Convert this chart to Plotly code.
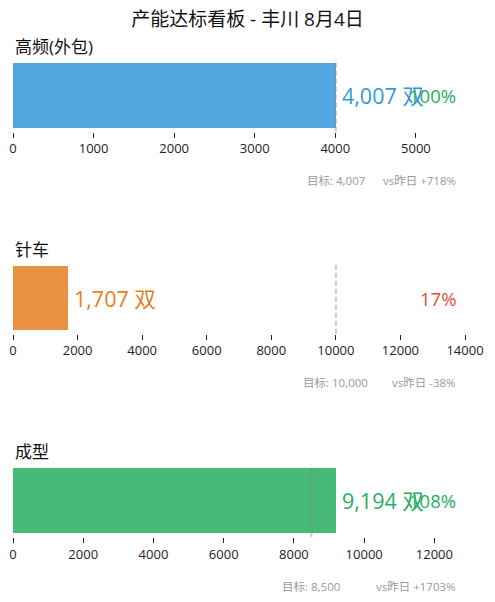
import plotly.graph_objects as go

# 产线数据
lines = ["高频(外包)", "针车", "成型"]
actual = [4007, 1707, 9194]
target = [4007, 10000, 8500]
vs_yesterday = [718, -38, 1703]  # %

bar_colors = ["#3498db", "#e67e22", "#27ae60"]
GREEN = "#27ae60"
RED = "#e74c3c"
FONT = "Open Sans, Noto Sans CJK SC, sans-serif"

# 每行的 y 轴区域（纸面坐标）
domains = [[0.848, 1.0], [0.425, 0.575], [0.0, 0.152]]

fig = go.Figure()
annotations = []
shapes = []

for i, name in enumerate(lines):
    n = "" if i == 0 else str(i + 1)
    xa, ya = "x" + n, "y" + n
    xmax = max(actual[i], target[i]) * 1.4
    rate = round(actual[i] / target[i] * 100)

    fig.add_trace(go.Bar(
        x=[actual[i]], y=[0], orientation="h", width=0.9,
        marker=dict(color=bar_colors[i], opacity=0.85, line_width=0),
        xaxis=xa, yaxis=ya, showlegend=False, hoverinfo="skip",
    ))

    fig.layout["xaxis" + n] = dict(
        domain=[0, 1], anchor=ya, range=[0, xmax], automargin=False,
        showgrid=False, zeroline=False, showline=False,
        ticks="outside", ticklen=5, tickcolor="#222",
        nticks=8, tickformat="d",
        tickfont=dict(size=13, color="#222"),
    )
    fig.layout["yaxis" + n] = dict(
        domain=domains[i], anchor=xa, range=[-0.5, 0.5], automargin=False,
        showgrid=False, zeroline=False, showticklabels=False,
    )

    # 目标虚线
    shapes.append(dict(
        type="line", xref=xa, yref=ya + " domain",
        x0=target[i], x1=target[i], y0=0, y1=1,
        line=dict(color="gray", width=2, dash="5px,3px"), opacity=0.4,
    ))

    # 产线名称
    annotations.append(dict(
        text=name, xref=xa + " domain", yref=ya + " domain",
        x=0, y=1, xanchor="left", yanchor="middle", yshift=13,
        showarrow=False, font=dict(size=17, color="#111"),
    ))
    # 实际产量
    annotations.append(dict(
        text=f"{actual[i]:,} 双", xref=xa, yref=ya,
        x=actual[i], y=0, xanchor="left", yanchor="middle", xshift=4,
        showarrow=False, font=dict(size=21.5, color=bar_colors[i]),
    ))
    # 达成率
    annotations.append(dict(
        text=f"{rate}%", xref=xa + " domain", yref=ya,
        x=0.985, y=0, xanchor="right", yanchor="middle",
        showarrow=False, font=dict(size=18.5, color=GREEN if rate >= 100 else RED),
    ))
    # 目标 / 昨日对比
    annotations.append(dict(
        text=f"目标: {target[i]:,}", xref=xa, yref=ya + " domain",
        x=target[i], y=0, xanchor="center", yanchor="middle", yshift=-49,
        showarrow=False, font=dict(size=11.5, color="#999"),
    ))
    annotations.append(dict(
        text=f"vs昨日 {vs_yesterday[i]:+d}%", xref=xa + " domain", yref=ya + " domain",
        x=0.985, y=0, xanchor="right", yanchor="middle", yshift=-49,
        showarrow=False, font=dict(size=11.5, color="#999"),
    ))

fig.update_layout(
    width=479, height=586,
    margin=dict(l=5, r=22, t=51, b=57, autoexpand=False),
    title=dict(text="产能达标看板 - 丰川 8月4日", x=0.5, xref="container",
               y=1 - 11.5 / 586, yref="container", yanchor="middle",
               font=dict(size=19, color="#111")),
    font=dict(family=FONT),
    paper_bgcolor="white", plot_bgcolor="white",
    annotations=annotations, shapes=shapes,
    bargap=0,
)

fig.write_html("out.html")
